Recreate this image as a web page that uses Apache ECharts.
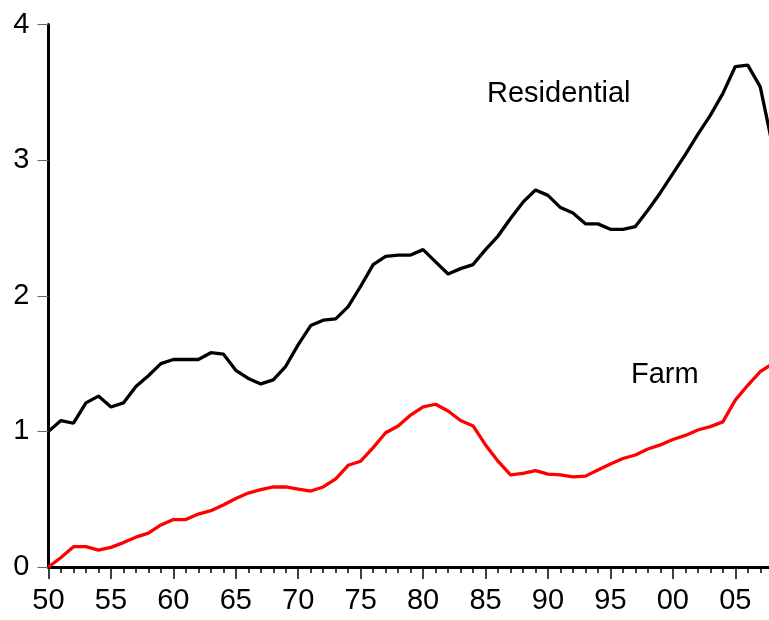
<!DOCTYPE html>
<html>
<head>
<meta charset="utf-8">
<script src="https://cdn.jsdelivr.net/npm/echarts@6/dist/echarts.min.js"></script>
<style>
html,body{margin:0;padding:0;background:#fff;}
#chart{width:769px;height:620px;}
</style>
</head>
<body>
<div id="chart"></div>
<script>
const years = [];
for (let y = 1950; y <= 2008; y++) years.push(y);

const residential = [
  1.00, 1.08, 1.06, 1.21, 1.26, 1.18, 1.21, 1.33, 1.41, 1.50,
  1.53, 1.53, 1.53, 1.58, 1.57, 1.45, 1.39, 1.35, 1.38, 1.48,
  1.64, 1.78, 1.82, 1.83, 1.92, 2.07, 2.23, 2.29, 2.30, 2.30,
  2.34, 2.25, 2.16, 2.20, 2.23, 2.34, 2.44, 2.57, 2.69, 2.78,
  2.74, 2.65, 2.61, 2.53, 2.53, 2.49, 2.49, 2.51, 2.63, 2.76,
  2.90, 3.04, 3.19, 3.33, 3.49, 3.69, 3.70, 3.54, 3.10
];

const farm = [
  0.00, 0.07, 0.15, 0.15, 0.125, 0.145, 0.18, 0.22, 0.25, 0.31,
  0.35, 0.35, 0.39, 0.415, 0.457, 0.505, 0.545, 0.57, 0.59, 0.59,
  0.575, 0.56, 0.59, 0.65, 0.75, 0.78, 0.88, 0.99, 1.04, 1.12,
  1.18, 1.20, 1.15, 1.08, 1.04, 0.90, 0.78, 0.68, 0.69, 0.71,
  0.685, 0.68, 0.665, 0.67, 0.715, 0.76, 0.80, 0.826, 0.87, 0.90,
  0.94, 0.97, 1.01, 1.035, 1.07, 1.23, 1.34, 1.44, 1.50
];

const xTickYears = [1950, 1955, 1960, 1965, 1970, 1975, 1980, 1985, 1990, 1995, 2000, 2005];
const yTicks = [0, 1, 2, 3, 4];
const seriesLabels = { residential: 'Residential', farm: 'Farm' };

const FONT = '"Liberation Sans", Arial, Helvetica, sans-serif';

const chart = echarts.init(document.getElementById('chart'));
chart.setOption({
  animation: false,
  backgroundColor: '#ffffff',
  grid: { left: 48.5, right: 0, top: 24.5, bottom: 53, containLabel: false },
  xAxis: {
    type: 'value',
    min: 1950,
    max: 2007.7,
    interval: 5,
    splitLine: { show: false },
    axisLine: { show: true, onZero: false, lineStyle: { color: '#000', width: 3 } },
    axisTick: { show: true, inside: false, length: 12, customValues: xTickYears, lineStyle: { color: '#000', width: 1.5 } },
    minorTick: { show: true, splitNumber: 5, length: 6, lineStyle: { color: '#000', width: 1.5 } },
    axisLabel: {
      show: true,
      customValues: xTickYears,
      margin: 19,
      fontSize: 29,
      fontFamily: FONT,
      color: '#000',
      formatter: function (v) { return String(Math.round(v) % 100).padStart(2, '0'); }
    }
  },
  yAxis: {
    type: 'value',
    min: 0,
    max: 4,
    interval: 1,
    splitLine: { show: false },
    axisLine: { show: true, onZero: false, lineStyle: { color: '#000', width: 3 } },
    axisTick: { show: true, inside: false, length: 11, lineStyle: { color: '#666', width: 1 } },
    axisLabel: {
      margin: 19,
      fontSize: 29,
      fontFamily: FONT,
      color: '#000',
      formatter: function (v) { return yTicks.indexOf(v) >= 0 ? String(v) : ''; }
    }
  },
  series: [
    {
      name: seriesLabels.residential,
      type: 'line',
      data: years.map((y, i) => [y, residential[i]]),
      showSymbol: false,
      clip: true,
      lineStyle: { color: '#000000', width: 3.3 },
      itemStyle: { color: '#000000' },
      z: 3
    },
    {
      name: seriesLabels.farm,
      type: 'line',
      data: years.map((y, i) => [y, farm[i]]),
      showSymbol: false,
      clip: true,
      lineStyle: { color: '#ff0000', width: 3.3 },
      itemStyle: { color: '#ff0000' },
      z: 3
    }
  ],
  graphic: [
    {
      type: 'text',
      x: 487,
      y: 94,
      style: { text: seriesLabels.residential, font: '29px ' + FONT, fill: '#000', verticalAlign: 'middle', align: 'left' }
    },
    {
      type: 'text',
      x: 631,
      y: 375,
      style: { text: seriesLabels.farm, font: '29px ' + FONT, fill: '#000', verticalAlign: 'middle', align: 'left' }
    }
  ]
});
</script>
</body>
</html>
